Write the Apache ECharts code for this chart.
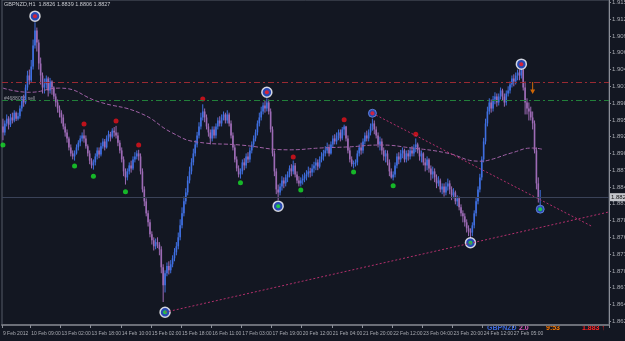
<!DOCTYPE html>
<html>
<head>
<meta charset="utf-8">
<script src="https://cdn.jsdelivr.net/npm/echarts@6/dist/echarts.min.js"></script>
<style>
html, body { margin: 0; padding: 0; background: #131722; }
#chart { width: 625px; height: 341px; }
</style>
</head>
<body>
<div id="chart"></div>
<script>
// GBPNZD H1 bars, prices in pips (price * 10000); open of a bar = close of the one before
const firstOpen = 18945;
const closes = [
  18935,18950,18958,18948,18960,18955,18968,18958,18962,18975,
  18990,18985,19010,19030,19022,19045,19080,19105,19085,19050,
  19030,19010,19015,19025,19005,19020,19010,18995,18985,18975,
  18968,18960,18945,18935,18925,18910,18900,18895,18900,18910,
  18918,18925,18930,18925,18912,18900,18888,18880,18885,18895,
  18905,18898,18912,18920,18910,18925,18932,18928,18938,18935,
  18930,18918,18905,18890,18870,18860,18870,18880,18875,18890,
  18895,18900,18895,18870,18840,18820,18800,18785,18765,18755,
  18745,18752,18748,18740,18710,18680,18700,18712,18705,18715,
  18725,18735,18745,18760,18780,18800,18820,18835,18855,18870,
  18885,18900,18915,18930,18945,18960,18970,18960,18945,18935,
  18925,18940,18930,18945,18955,18950,18960,18965,18955,18965,
  18950,18930,18910,18890,18875,18865,18870,18885,18880,18895,
  18890,18905,18915,18925,18935,18950,18960,18970,18980,18975,
  18985,18970,18940,18900,18870,18840,18835,18845,18855,18850,
  18860,18865,18875,18870,18880,18865,18855,18850,18855,18858,
  18862,18865,18870,18868,18875,18880,18885,18878,18890,18895,
  18900,18905,18910,18900,18915,18925,18920,18930,18935,18925,
  18940,18945,18925,18905,18890,18882,18884,18885,18900,18910,
  18905,18920,18930,18925,18935,18945,18950,18940,18930,18915,
  18920,18905,18895,18900,18885,18870,18860,18865,18880,18895,
  18890,18900,18905,18890,18900,18895,18905,18900,18910,18915,
  18905,18895,18900,18885,18880,18890,18875,18865,18870,18860,
  18850,18855,18840,18845,18835,18845,18850,18840,18830,18835,
  18820,18825,18810,18800,18795,18785,18775,18770,18768,18780,
  18800,18820,18840,18860,18890,18920,18950,18970,18985,18975,
  18990,18995,18985,18995,19005,18995,18985,19000,19005,19015,
  19025,19020,19030,19035,19030,19040,19010,18985,18975,18970,
  18960,18950,18905,18850,18826,18827
];
const highs = [
  18958,18955,18965,18962,18966,18968,18972,18970,18968,18980,
  18995,18998,19015,19038,19040,19056,19090,19119,19110,19090,
  19060,19035,19025,19030,19028,19026,19022,19012,19000,18990,
  18980,18972,18965,18950,18940,18928,18915,18905,18905,18915,
  18922,18930,18935,18940,18930,18915,18905,18892,18890,18900,
  18910,18910,18918,18925,18924,18930,18938,18936,18942,18944,
  18946,18935,18922,18910,18895,18875,18875,18885,18888,18895,
  18902,18905,18906,18900,18875,18845,18825,18805,18790,18770,
  18760,18758,18760,18752,18745,18715,18705,18718,18720,18722,
  18730,18742,18752,18768,18790,18810,18828,18842,18862,18878,
  18892,18908,18922,18936,18952,18968,18982,18975,18965,18950,
  18940,18945,18945,18950,18960,18962,18965,18970,18968,18972,
  18968,18955,18935,18915,18895,18880,18875,18890,18892,18900,
  18902,18910,18920,18930,18940,18955,18968,18978,18985,18988,
  18992,18990,18975,18945,18905,18875,18848,18850,18862,18860,
  18865,18870,18880,18882,18888,18884,18870,18862,18860,18865,
  18868,18872,18878,18876,18882,18886,18892,18890,18895,18902,
  18906,18912,18918,18915,18920,18930,18932,18935,18940,18940,
  18944,18948,18946,18930,18910,18895,18888,18890,18905,18915,
  18918,18925,18935,18938,18940,18950,18958,18955,18945,18935,
  18928,18925,18910,18906,18905,18890,18875,18870,18885,18900,
  18902,18906,18910,18908,18905,18906,18910,18912,18915,18925,
  18918,18910,18905,18902,18892,18895,18892,18880,18878,18875,
  18865,18862,18858,18850,18850,18852,18858,18855,18845,18842,
  18838,18830,18828,18815,18805,18800,18790,18780,18775,18785,
  18805,18826,18845,18866,18895,18926,18958,18978,18992,18990,
  18996,19002,19000,19000,19010,19008,19000,19005,19012,19020,
  19030,19032,19035,19040,19040,19042,19040,19020,18992,18985,
  18978,18970,18955,18910,18860,18839
];
const lows = [
  18922,18930,18945,18940,18944,18950,18952,18954,18955,18958,
  18970,18978,18982,19005,19015,19018,19040,19075,19070,19040,
  19015,19000,19000,19008,18995,19000,18998,18990,18978,18968,
  18960,18950,18940,18928,18918,18905,18895,18890,18888,18898,
  18905,18912,18920,18918,18908,18895,18882,18875,18873,18880,
  18890,18892,18895,18908,18905,18908,18920,18920,18925,18928,
  18925,18912,18900,18885,18862,18848,18855,18865,18868,18872,
  18885,18890,18888,18865,18835,18812,18795,18778,18760,18748,
  18738,18740,18742,18730,18700,18652,18668,18695,18698,18700,
  18710,18720,18730,18740,18755,18775,18795,18815,18830,18850,
  18865,18880,18895,18910,18925,18940,18955,18952,18940,18928,
  18915,18920,18925,18925,18940,18945,18945,18955,18950,18950,
  18945,18925,18905,18885,18870,18860,18858,18865,18872,18875,
  18884,18885,18900,18910,18920,18930,18945,18955,18965,18968,
  18970,18965,18935,18895,18862,18832,18822,18830,18838,18842,
  18845,18852,18860,18862,18865,18860,18850,18845,18845,18848,
  18852,18855,18860,18860,18862,18868,18872,18872,18875,18885,
  18888,18895,18900,18895,18898,18910,18915,18915,18922,18920,
  18922,18930,18920,18900,18885,18878,18875,18878,18880,18895,
  18898,18900,18915,18920,18920,18930,18938,18932,18925,18910,
  18905,18898,18888,18885,18880,18862,18858,18855,18860,18875,
  18882,18885,18892,18885,18885,18888,18890,18895,18895,18902,
  18900,18888,18885,18880,18870,18872,18868,18855,18858,18852,
  18842,18845,18835,18832,18828,18830,18838,18832,18822,18825,
  18815,18812,18805,18795,18785,18778,18768,18762,18758,18762,
  18775,18795,18815,18835,18855,18885,18915,18945,18965,18968,
  18970,18982,18978,18980,18990,18988,18978,18980,18995,19000,
  19010,19012,19015,19022,19022,19025,19005,18965,18965,18955,
  18955,18940,18900,18840,18818,18806
];

// x axis: 322 hourly slots, the last ones empty (chart shift)
const slotCount = 322;
const timeLabelBars = [0, 15, 31, 47, 63, 79, 95, 111, 127, 143, 159, 175, 191, 207, 223, 239, 255, 271];
const timeLabels = ['9 Feb 2012', '10 Feb 09:00', '13 Feb 02:00', '13 Feb 18:00', '14 Feb 10:00', '15 Feb 02:00',
  '15 Feb 18:00', '16 Feb 11:00', '17 Feb 03:00', '17 Feb 19:00', '20 Feb 12:00', '21 Feb 04:00',
  '21 Feb 20:00', '22 Feb 12:00', '23 Feb 04:00', '23 Feb 20:00', '24 Feb 12:00', '27 Feb 05:00'];
const priceTicks = [1.8620, 1.8648, 1.8676, 1.8704, 1.8732, 1.8760, 1.8788, 1.8816, 1.8844, 1.8872, 1.8900,
  1.8928, 1.8956, 1.8984, 1.9012, 1.9040, 1.9068, 1.9096, 1.9124, 1.9152];

// moving average, read at a few bars
const maPoints = [[0, 19009], [14, 19002], [30, 19009], [51, 18986], [73, 18967], [90, 18934], [103, 18919],
  [126, 18914], [152, 18906], [168, 18909], [184, 18911], [200, 18914], [217, 18909], [235, 18901],
  [253, 18887], [258, 18889], [270, 18901], [281, 18909], [286, 18907]];

// horizontal levels
const sellLevel = 19019;
const tpLevel = 18988;
const lastPrice = 18827;

// trend lines [bar, pips]
const supportLine = [[86, 18635], [321, 18802]];
const resistLine = [[196, 18967], [312, 18779]];

// signals [bar, pips]
const fractalUp = [[43, 18949], [60, 18954], [72, 18914], [106, 18991], [154, 18894], [181, 18956], [219, 18932]];
const fractalDown = [[0, 18914], [38, 18879], [48, 18862], [65, 18836], [126, 18851], [158, 18839], [186, 18869], [207, 18846]];
const swingHigh = [[17, 19129], [140, 19002], [275, 19049]];
const swingLow = [[86, 18635], [146, 18812], [248, 18751]];
const smallHigh = [[196, 18967]];
const smallLow = [[285, 18807]];
const sellArrow = [[281, 19009]];

const p = v => v / 10000;
const pts = arr => arr.map(d => [d[0], p(d[1])]);

const upColor = '#3f6fe0';
const downColor = '#9d6bb5';

// [bar, open, close, low, high]
const bars = closes.map((c, i) => {
  const o = i === 0 ? firstOpen : closes[i - 1];
  return [i, p(o), p(c), p(lows[i]), p(highs[i])];
});
const cats = [];
for (let i = 0; i < slotCount; i++) cats.push(String(i));
const labelAt = {};
timeLabelBars.forEach((b, k) => { labelAt[b] = timeLabels[k]; });

const font = 'Liberation Sans';
const myChart = echarts.init(document.getElementById('chart'));

const renderBar = (params, api) => {
  const i = api.value(0);
  const o = api.value(1), c = api.value(2);
  const top = api.coord([i, api.value(4)]);
  const bot = api.coord([i, api.value(3)]);
  const po = api.coord([i, o]);
  const pc = api.coord([i, c]);
  const color = c >= o ? upColor : downColor;
  const y0 = Math.min(po[1], pc[1]);
  return {
    type: 'group',
    children: [
      { type: 'line', shape: { x1: top[0], y1: top[1], x2: bot[0], y2: bot[1] }, style: { stroke: color, lineWidth: 1 } },
      { type: 'rect', shape: { x: top[0] - 0.8, y: y0, width: 1.6, height: Math.max(1, Math.abs(po[1] - pc[1])) }, style: { fill: color } }
    ]
  };
};

myChart.setOption({
  backgroundColor: '#131722',
  animation: false,
  grid: {
    left: 2, right: 16, top: 0, bottom: 16, outerBoundsMode: 'none', containLabel: false,
    show: true, borderColor: '#555a66', borderWidth: 1
  },
  xAxis: {
    type: 'category',
    data: cats,
    boundaryGap: true,
    axisLine: { lineStyle: { color: '#6c6f78', width: 2 } },
    axisTick: { show: true, length: 3, interval: i => labelAt[i] !== undefined, lineStyle: { color: '#8a8d96' } },
    axisLabel: {
      interval: i => labelAt[i] !== undefined,
      formatter: (v, i) => labelAt[i] || '',
      hideOverlap: false, showMaxLabel: true,
      align: 'left', margin: 6, fontSize: 5, fontFamily: font, color: '#a9abb2'
    },
    splitLine: { show: false }
  },
  yAxis: {
    type: 'value',
    position: 'right',
    min: 1.86137,
    max: 1.9156,
    scale: true,
    axisLine: { show: true, lineStyle: { color: '#8a8d96' } },
    axisTick: { show: true, length: 2, customValues: priceTicks, lineStyle: { color: '#8a8d96' } },
    axisLabel: {
      customValues: priceTicks,
      formatter: v => v.toFixed(4),
      margin: 3, fontSize: 6, fontFamily: font, color: '#a9abb2'
    },
    splitLine: { show: false }
  },
  series: [
    {
      type: 'custom',
      renderItem: renderBar,
      data: bars,
      encode: { x: 0, y: [1, 2, 3, 4] },
      clip: true
    },
    {
      type: 'line', data: pts(maPoints), symbol: 'none', smooth: true,
      lineStyle: { color: '#a061a6', width: 1, type: [4, 2] },
      markLine: {
        silent: true,
        symbol: 'none',
        precision: 4,
        data: [
          { yAxis: p(sellLevel), lineStyle: { color: '#9a2a32', type: [6, 3, 2, 3], width: 1 }, label: { show: false } },
          { yAxis: p(tpLevel), lineStyle: { color: '#22803a', type: [6, 3, 2, 3], width: 1 }, label: { show: false } },
          {
            yAxis: p(lastPrice), lineStyle: { color: '#3a4258', type: 'solid', width: 1 },
            label: {
              show: true, position: 'end', distance: 1, formatter: p(lastPrice).toFixed(4),
              backgroundColor: '#c4c6cc', color: '#111', fontSize: 6, fontFamily: font, padding: [1, 1]
            }
          }
        ]
      }
    },
    {
      type: 'line', data: pts(supportLine), symbol: 'none',
      lineStyle: { color: '#b22f6c', width: 1, type: [2, 2] }
    },
    {
      type: 'line', data: pts(resistLine), symbol: 'none',
      lineStyle: { color: '#b22f6c', width: 1, type: [2, 2] }
    },
    { type: 'scatter', data: pts(fractalUp), symbol: 'circle', symbolSize: 5, itemStyle: { color: '#e8121a' } },
    { type: 'scatter', data: pts(fractalDown), symbol: 'circle', symbolSize: 5, itemStyle: { color: '#18e02a' } },
    {
      type: 'scatter', data: pts(swingHigh.concat(swingLow)), symbol: 'circle', symbolSize: 10,
      itemStyle: { color: '#2f56d6', borderColor: '#ffffff', borderWidth: 1.5 }
    },
    {
      type: 'scatter', data: pts(smallHigh.concat(smallLow)), symbol: 'circle', symbolSize: 8,
      itemStyle: { color: '#2f56d6', borderColor: '#6f8ee8', borderWidth: 1 }
    },
    { type: 'scatter', data: pts(swingHigh.concat(smallHigh)), symbol: 'circle', symbolSize: 4, itemStyle: { color: '#ff1a1a' } },
    { type: 'scatter', data: pts(swingLow.concat(smallLow)), symbol: 'circle', symbolSize: 4, itemStyle: { color: '#1ee62e' } },
    {
      type: 'scatter', data: pts(sellArrow), symbolSize: [5, 12],
      symbol: 'path://M4,0 L6,0 L6,10 L10,10 L5,16 L0,10 L4,10 Z',
      itemStyle: { color: '#ff7a00' }
    }
  ],
  graphic: [
    { type: 'text', left: 4, top: 1, style: { text: 'GBPNZD,H1  1.8826 1.8839 1.8806 1.8827', fill: '#c8cad0', font: '5.5px ' + font } },
    { type: 'text', left: 4, top: 96, style: { text: '#4688058 sell', fill: '#9a9ca4', font: '5px ' + font } },
    { type: 'text', left: 487, top: 325, style: { text: 'GBPNZD', fill: '#3a66d8', font: 'bold 7px ' + font } },
    { type: 'text', left: 519, top: 325, style: { text: '2.0', fill: '#e05cc0', font: 'bold 7px ' + font } },
    { type: 'text', left: 546, top: 325, style: { text: '9:53', fill: '#ff7a00', font: 'bold 7px ' + font } },
    { type: 'text', left: 582, top: 325, style: { text: '1.883 \u2191', fill: '#ff2222', font: 'bold 7px ' + font } }
  ]
});
</script>
</body>
</html>
